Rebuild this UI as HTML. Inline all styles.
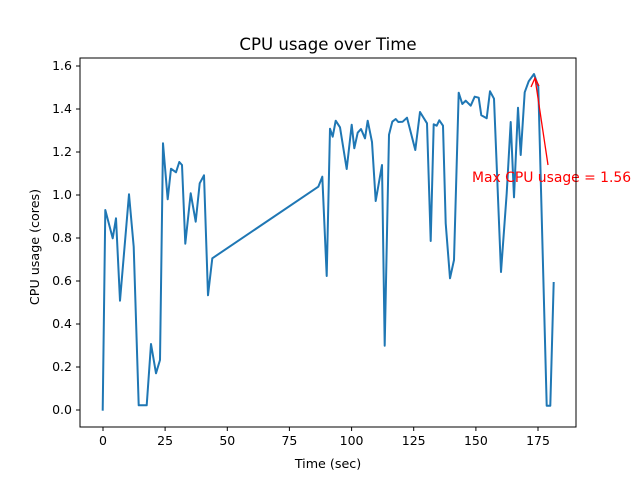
<!DOCTYPE html>
<html><head><style>body{margin:0;background:#fff}</style></head><body>
<svg width="640" height="480" xmlns="http://www.w3.org/2000/svg" font-family="DejaVu Sans, sans-serif">
<rect width="640" height="480" fill="#fff"/>
<text x="328" y="50" text-anchor="middle" font-size="16.6">CPU usage over Time</text>
<polyline fill="none" stroke="#1f77b4" stroke-width="2" stroke-linejoin="round" points="102.7,410.7 105.3,210 112.7,238.3 116,218.3 120,300.7 129,194.3 133.7,246.7 138.7,405.3 146.7,405.3 151,344 156,373.3 160,360 163,143.3 167.7,199.3 171,168.7 176,172.3 179.3,162 182,165 185.3,243.7 190.7,193.3 195.7,221.7 199.7,183.3 204,175.3 208,295.3 212.3,258.3 318.3,186.7 322.3,176.7 326.7,276 330,128.7 332.7,136.7 335.7,120.7 340,127.3 346.7,169 351.7,124.7 354.3,148.3 357.7,132.7 361,129 365,138.3 367.7,120.7 372,142 375.7,201 382,165 384.7,345.7 389,134.7 392.3,121.7 395.7,119 398.3,122 402.7,121.7 407,117.7 415.3,150 420,112 427,123.3 430.7,241 433.7,124.3 436.7,125.7 439.3,120.3 443,125.7 445.7,223.3 450,278.3 454,260 458.7,92.7 462.3,104 465.7,100.7 470.7,105.7 474.7,96.7 478.7,97.7 481.3,115.3 486.7,118.3 490,91.3 494,98.7 501,272 506.7,193.3 510.7,122 514,197.3 518,107.7 520.7,155 524.7,92.3 528.7,81.3 534,74 538.3,86.7 546.7,405.7 550.3,405.7 553.7,282"/>
<line x1="548" y1="165" x2="535" y2="78" stroke="red" stroke-width="1.3"/>
<polyline points="531,87 535,78 539,86" fill="none" stroke="red" stroke-width="1.3"/>
<text x="472" y="182" font-size="13.9" fill="red">Max CPU usage = 1.56</text>
<rect x="80" y="58" width="496" height="369" fill="none" stroke="#000" stroke-width="1"/>
<g font-size="12.5" text-anchor="middle" stroke="none">
<g stroke="#000"><line x1="103" y1="427" x2="103" y2="431"/><line x1="165.1" y1="427" x2="165.1" y2="431"/><line x1="227.3" y1="427" x2="227.3" y2="431"/><line x1="289.4" y1="427" x2="289.4" y2="431"/><line x1="351.6" y1="427" x2="351.6" y2="431"/><line x1="413.7" y1="427" x2="413.7" y2="431"/><line x1="475.9" y1="427" x2="475.9" y2="431"/><line x1="538" y1="427" x2="538" y2="431"/></g>
<text x="103" y="445">0</text><text x="165.1" y="445">25</text><text x="227.3" y="445">50</text><text x="289.4" y="445">75</text><text x="351.6" y="445">100</text><text x="413.7" y="445">125</text><text x="475.9" y="445">150</text><text x="538" y="445">175</text>
<text x="328" y="468" font-size="12.7">Time (sec)</text>
</g>
<g font-size="12.5" text-anchor="end">
<g stroke="#000"><line x1="76" y1="410" x2="80" y2="410"/><line x1="76" y1="367" x2="80" y2="367"/><line x1="76" y1="324" x2="80" y2="324"/><line x1="76" y1="281" x2="80" y2="281"/><line x1="76" y1="238" x2="80" y2="238"/><line x1="76" y1="195" x2="80" y2="195"/><line x1="76" y1="152" x2="80" y2="152"/><line x1="76" y1="109" x2="80" y2="109"/><line x1="76" y1="66" x2="80" y2="66"/></g>
<text x="72" y="414">0.0</text><text x="72" y="371">0.2</text><text x="72" y="328">0.4</text><text x="72" y="285">0.6</text><text x="72" y="242">0.8</text><text x="72" y="199">1.0</text><text x="72" y="156">1.2</text><text x="72" y="113">1.4</text><text x="72" y="70">1.6</text>
</g>
<text transform="translate(39,247) rotate(-90)" font-size="12.7" text-anchor="middle">CPU usage (cores)</text>
</svg>
</body></html>
